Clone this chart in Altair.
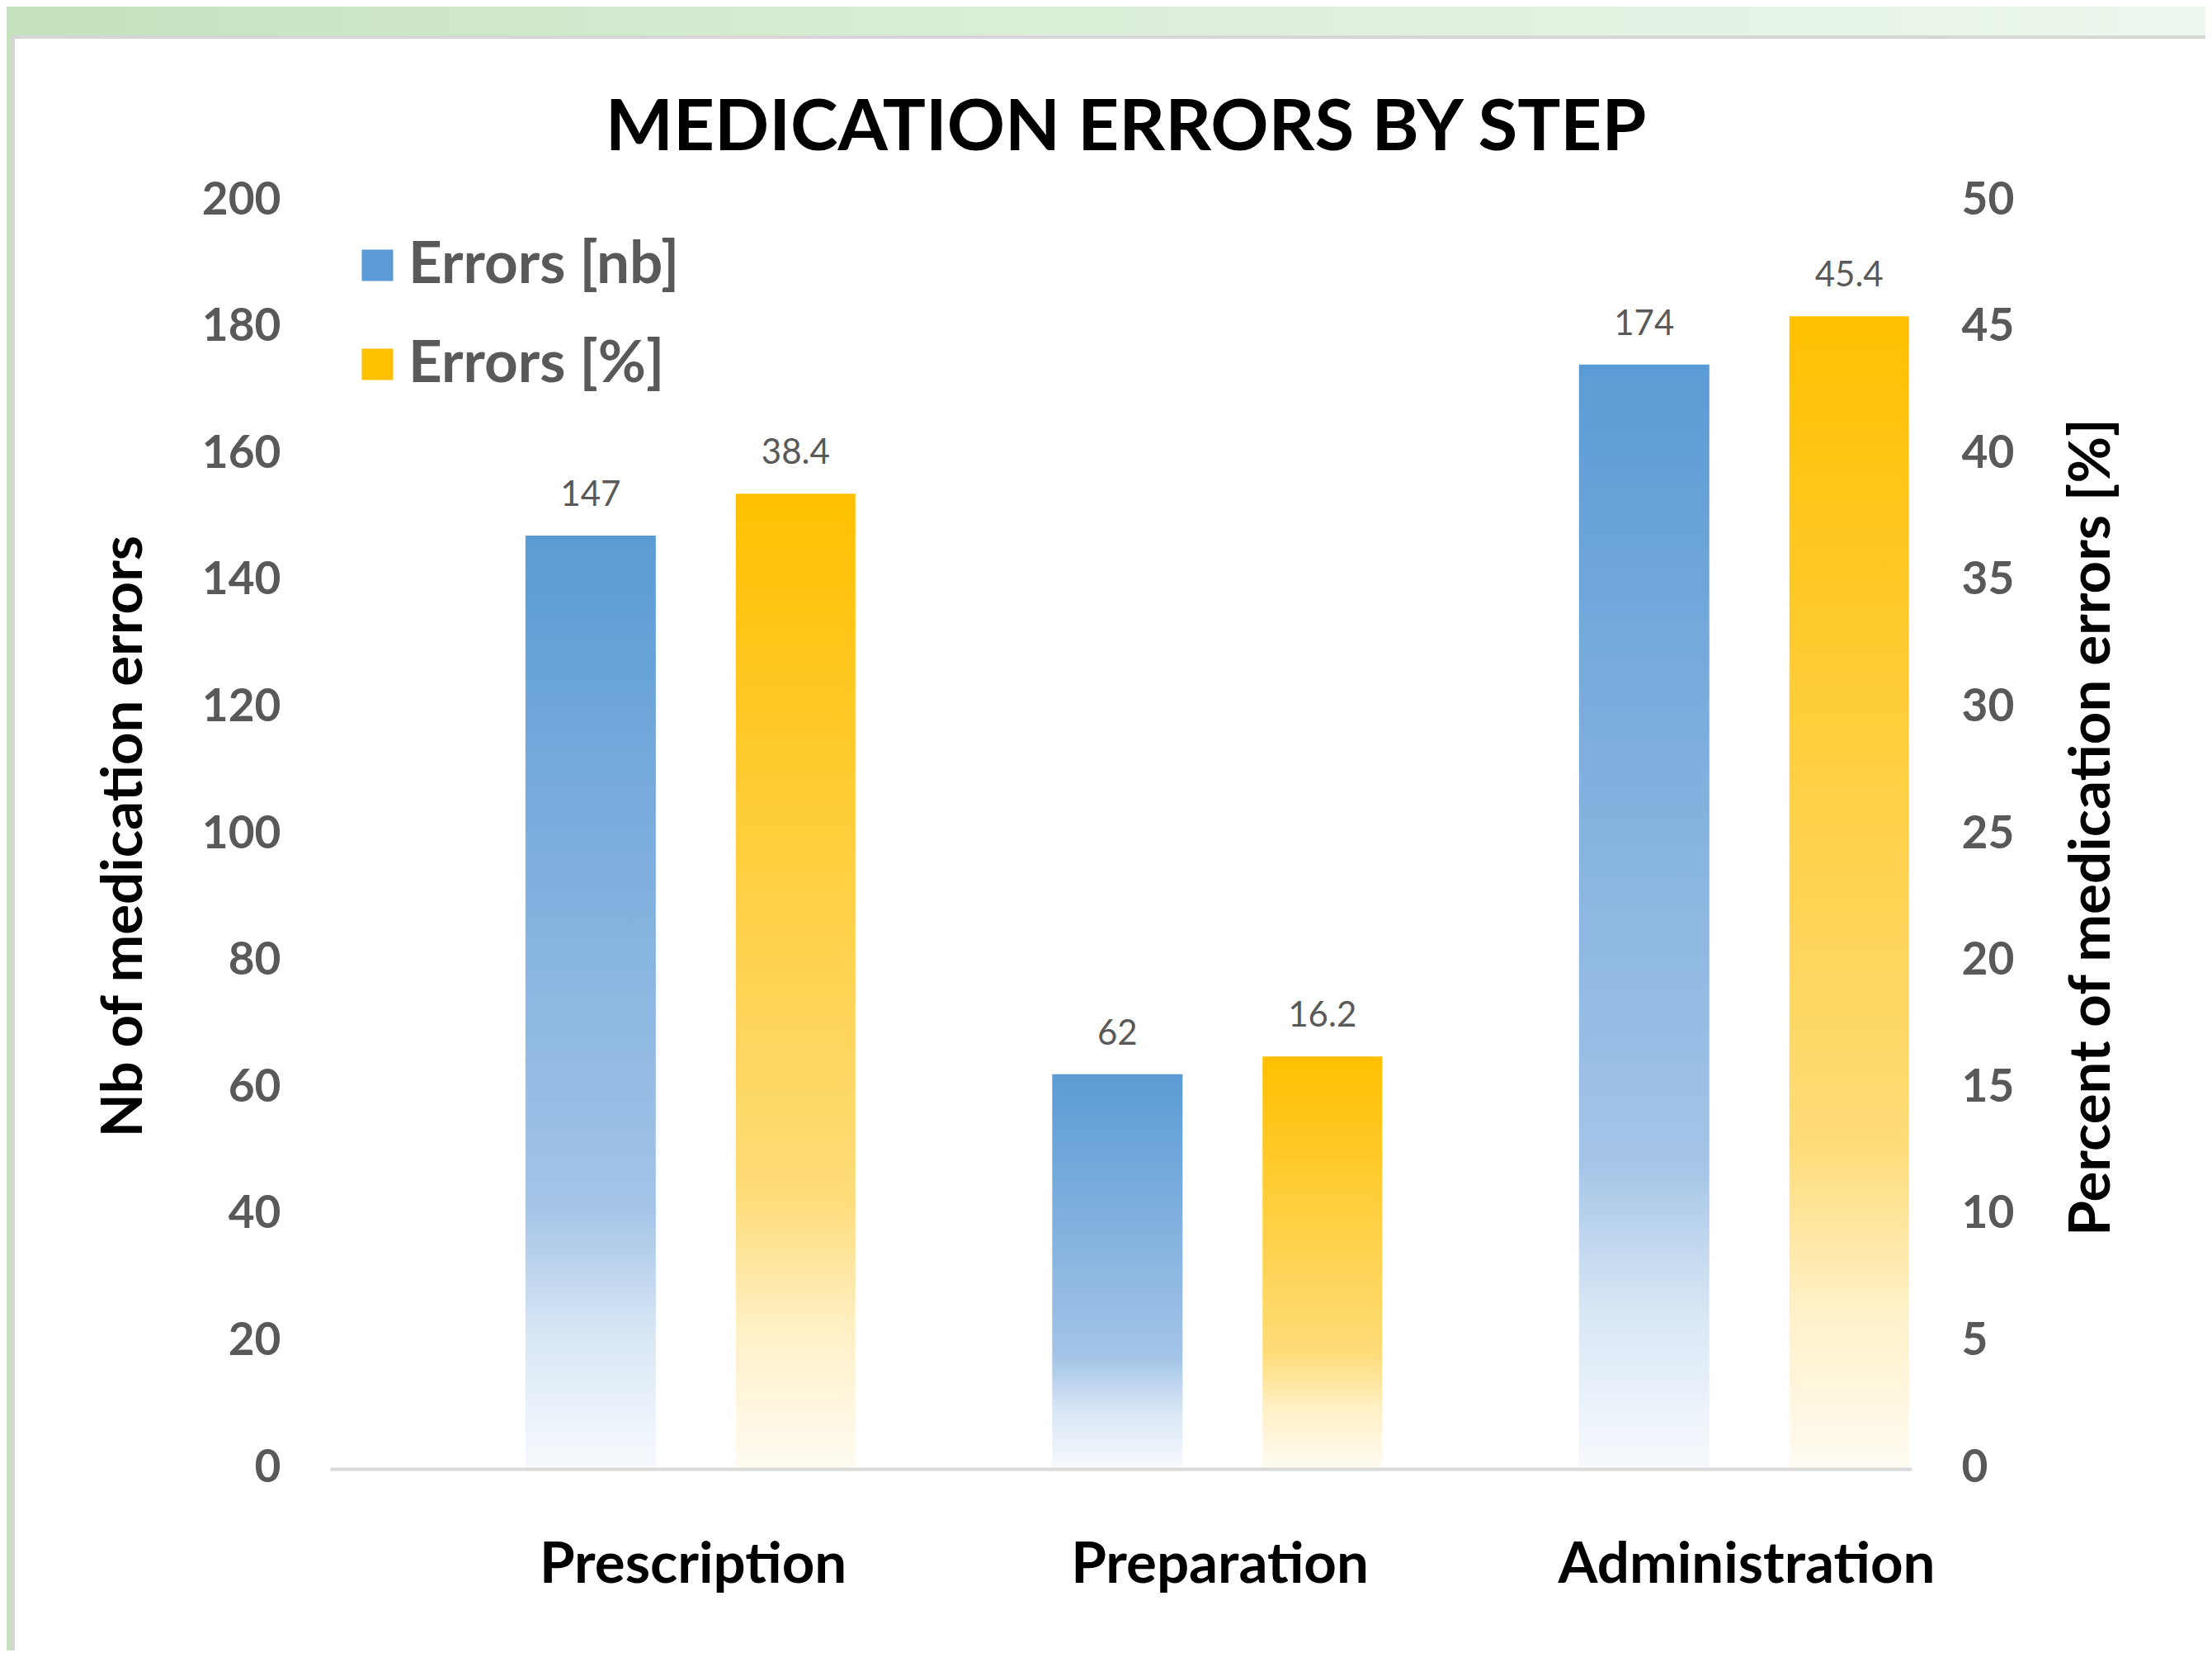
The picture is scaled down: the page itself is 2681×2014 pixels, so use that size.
import altair as alt
import pandas as pd

# ---------------- data ----------------
steps = ["Prescription", "Preparation", "Administration"]
errors_nb = [147, 62, 174]
errors_pct = [38.4, 16.2, 45.4]
series = ["Errors [nb]", "Errors [%]"]
nb_ticks = [0, 20, 40, 60, 80, 100, 120, 140, 160, 180, 200]
pct_ticks = [0, 5, 10, 15, 20, 25, 30, 35, 40, 45, 50]

# ---------------- style ----------------
BLUE = "#5b9bd5"
GOLD = "#ffc000"
GRAY = "#595959"
FONT = "Lato"

W, H = 1917, 1536
PAD_L, PAD_T, PAD_R, PAD_B = 392, 234, 356, 222

nb_df = pd.DataFrame({"step": steps, "series": series[0], "value": errors_nb})
pct_df = pd.DataFrame({"step": steps, "series": series[1], "value": errors_pct})
legend_df = pd.DataFrame({"series": series})
frame_df = pd.DataFrame({"part": ["frame"]})


def grad(stops, horizontal=False):
    return alt.LinearGradient(
        gradient="linear",
        x1=0, y1=0,
        x2=1 if horizontal else 0,
        y2=0 if horizontal else 1,
        stops=[alt.GradientStop(offset=o, color=c) for o, c in stops],
    )


blue_grad = grad([(0, "#5b9bd5"), (0.72, "#a3c4e7"), (0.86, "#d9e7f5"), (1, "#f6f9fd")])
gold_grad = grad([(0, "#ffc000"), (0.72, "#fedc78"), (0.86, "#fff0c6"), (1, "#fffbf2")])
green_grad = grad([(0, "#c4e2bd"), (0.5, "#dcefd9"), (1, "#ecf7ed")], horizontal=True)

x_axis = alt.Axis(
    title=None, labelFont=FONT, labelFontSize=69, labelFontWeight="bold",
    labelColor="black", labelPadding=137, labelBaseline="alphabetic",
    labelAngle=0, labelLimit=1000, ticks=False, tickSize=0, grid=False,
    domainColor="#d9d9d9", domainWidth=4, offset=2, zindex=2,
)
x_enc = alt.X(
    "step:N", sort=steps,
    scale=alt.Scale(domain=steps, paddingInner=0.3735, paddingOuter=0.188, align=1),
    axis=x_axis,
)
xo_enc = alt.XOffset("series:N", scale=alt.Scale(domain=series, paddingInner=0.39))

common_y_axis = dict(
    grid=False, domain=False, ticks=False, tickSize=0, labelPadding=60,
    labelFont=FONT, labelFontSize=55, labelFontWeight="bold", labelColor=GRAY,
    labelBaseline="middle", titleFont=FONT, titleFontSize=69,
    titleFontWeight="bold", titleColor="black", titleAngle=270,
    titleBaseline="alphabetic", titleAlign="center", zindex=2,
)
y_nb = alt.Y(
    "value:Q", scale=alt.Scale(domain=[0, 200], nice=False),
    axis=alt.Axis(orient="left", values=nb_ticks, title="Nb of medication errors",
                  titleX=-229, titleY=771, **common_y_axis),
)
y_pct = alt.Y(
    "value:Q", scale=alt.Scale(domain=[0, 50], nice=False),
    axis=alt.Axis(orient="right", values=pct_ticks,
                  title="Percent of medication errors [%]",
                  titleX=239, titleY=760, **common_y_axis),
)

# legend carrier (hidden beneath the background)
legend_layer = alt.Chart(legend_df).mark_square().encode(
    color=alt.Color(
        "series:N", sort=series,
        scale=alt.Scale(domain=series, range=[BLUE, GOLD]),
        legend=alt.Legend(
            title=None, orient="none", legendX=22, legendY=44,
            direction="vertical", symbolType="square", symbolSize=1444,
            symbolStrokeWidth=0, symbolOpacity=1, labelFont=FONT,
            labelFontSize=71, labelFontWeight="bold", labelColor=GRAY,
            labelOffset=2, rowPadding=48, padding=0, labelLimit=1000,
            zindex=2,
        ),
    )
)

bg = alt.Chart(frame_df).mark_rect(fill=green_grad).encode(
    x=alt.value(-PAD_L), x2=alt.value(W + PAD_R),
    y=alt.value(-PAD_T), y2=alt.value(H + PAD_B),
)
card = alt.Chart(frame_df).mark_rect(fill="white", stroke="#d6d6d6", strokeWidth=4).encode(
    x=alt.value(-384), x2=alt.value(W + PAD_R + 20),
    y=alt.value(-197), y2=alt.value(H + PAD_B + 20),
)

blue_bars = alt.Chart(nb_df).mark_bar(fill=blue_grad, width=158).encode(
    x=x_enc, xOffset=xo_enc, y=y_nb)
blue_text = alt.Chart(nb_df).mark_text(
    font=FONT, fontSize=42, color=GRAY, baseline="alphabetic", dy=-36
).encode(x=x_enc, xOffset=xo_enc, y=y_nb, text=alt.Text("value:Q", format="d"))

gold_bars = alt.Chart(pct_df).mark_bar(fill=gold_grad, width=145).encode(
    x=x_enc, xOffset=xo_enc, y=y_pct)
gold_text = alt.Chart(pct_df).mark_text(
    font=FONT, fontSize=42, color=GRAY, baseline="alphabetic", dy=-36
).encode(x=x_enc, xOffset=xo_enc, y=y_pct, text=alt.Text("value:Q", format=".1f"))

blue = alt.layer(blue_bars, blue_text)
gold = alt.layer(gold_bars, gold_text)

chart = (
    alt.layer(legend_layer, bg, card, blue, gold)
    .resolve_scale(y="independent")
    .properties(
        width=W, height=H,
        autosize=alt.AutoSizeParams(type="none"),
        padding={"left": PAD_L, "top": PAD_T, "right": PAD_R, "bottom": PAD_B},
        title=alt.TitleParams(
            text="MEDICATION ERRORS BY STEP", font=FONT, fontSize=87,
            fontWeight="bold", color="black", anchor="middle", frame="group",
            baseline="alphabetic", offset=-261, dx=6,
        ),
    )
    .configure(font=FONT, background="white")
    .configure_view(stroke=None)
)

chart.save("out.html", embed_options={"renderer": "svg", "actions": False})
